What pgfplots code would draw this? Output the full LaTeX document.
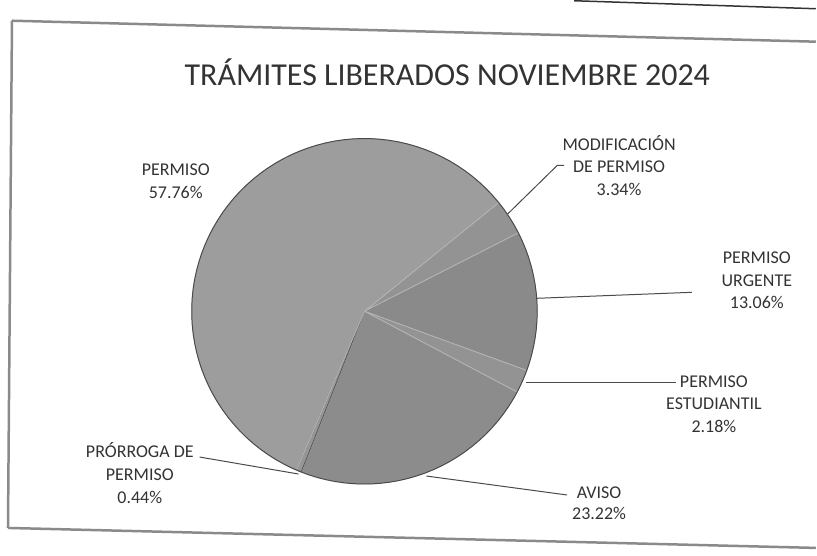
\documentclass[border=0pt]{standalone}
\usepackage{pgfplots}
\pgfplotsset{compat=1.18}
\usepackage{fontspec}
\setmainfont{Carlito}
\definecolor{txt}{HTML}{333333}
\definecolor{cPER}{HTML}{9D9D9D}
\definecolor{cMOD}{HTML}{939393}
\definecolor{cURG}{HTML}{8A8A8A}
\definecolor{cEST}{HTML}{939393}
\definecolor{cAVI}{HTML}{8C8C8C}
\definecolor{cPRO}{HTML}{969696}
\definecolor{sep}{HTML}{B4B4B4}
\definecolor{edge}{HTML}{4A4A4A}
\definecolor{frame}{HTML}{8A8A8A}
% slice values (percent)
\def\vMOD{3.34}
\def\vURG{13.06}
\def\vEST{2.18}
\def\vAVI{23.22}
\def\vPRO{0.44}
\def\vPER{57.76}
% pie geometry (start angle, clockwise)
\def\cx{365}\def\cy{245}\def\rr{173}
\pgfmathsetmacro\aA{39}
\pgfmathsetmacro\aB{\aA-3.6*\vMOD}
\pgfmathsetmacro\aC{\aB-3.6*\vURG}
\pgfmathsetmacro\aD{\aC-3.6*\vEST}
\pgfmathsetmacro\aE{\aD-3.6*\vAVI}
\pgfmathsetmacro\aF{\aE-3.6*\vPRO}
\pgfmathsetmacro\aG{\aF-3.6*\vPER}
\begin{document}
\begin{tikzpicture}
\begin{axis}[hide axis, scale only axis, width=817pt, height=556pt,
  xmin=0, xmax=817, ymin=0, ymax=556, clip=false,
  at={(0,0)}, anchor=south west]
\addplot[draw=none] coordinates {(0,0) (817,556)};
% frame
\addplot[frame, line width=2.5pt] coordinates {(12,536) (817,515)};
\addplot[frame, line width=2.5pt] coordinates {(12,536) (8,28)};
\addplot[frame, line width=2.5pt] coordinates {(8,28) (817,8)};
\addplot[black!80, line width=1.5pt] coordinates {(575,556) (817,548)};
% slices
\addplot[fill=cMOD, draw=sep, line width=0.8pt, domain=\aB:\aA, samples=20, variable=\t]
  ({\cx+\rr*cos(\t)},{\cy+\rr*sin(\t)}) -- (axis cs:\cx,\cy) -- cycle;
\addplot[fill=cURG, draw=sep, line width=0.8pt, domain=\aC:\aB, samples=30, variable=\t]
  ({\cx+\rr*cos(\t)},{\cy+\rr*sin(\t)}) -- (axis cs:\cx,\cy) -- cycle;
\addplot[fill=cEST, draw=sep, line width=0.8pt, domain=\aD:\aC, samples=10, variable=\t]
  ({\cx+\rr*cos(\t)},{\cy+\rr*sin(\t)}) -- (axis cs:\cx,\cy) -- cycle;
\addplot[fill=cAVI, draw=sep, line width=0.8pt, domain=\aE:\aD, samples=40, variable=\t]
  ({\cx+\rr*cos(\t)},{\cy+\rr*sin(\t)}) -- (axis cs:\cx,\cy) -- cycle;
\addplot[fill=cPRO, draw=edge, line width=0.6pt, domain=\aF:\aE, samples=5, variable=\t]
  ({\cx+\rr*cos(\t)},{\cy+\rr*sin(\t)}) -- (axis cs:\cx,\cy) -- cycle;
\addplot[fill=cPER, draw=sep, line width=0.8pt, domain=\aG:\aF, samples=80, variable=\t]
  ({\cx+\rr*cos(\t)},{\cy+\rr*sin(\t)}) -- (axis cs:\cx,\cy) -- cycle;
% outer edge
\addplot[edge, line width=1pt, domain=0:360, samples=120, variable=\t]
  ({\cx+\rr*cos(\t)},{\cy+\rr*sin(\t)});
% leader lines
\addplot[edge, line width=1pt] coordinates {(508,342) (558,391) (565,391)};
\addplot[edge, line width=1pt] coordinates {(538,258) (693,264)};
\addplot[edge, line width=1pt] coordinates {(527,174) (677,174)};
\addplot[edge, line width=1pt] coordinates {(427,80) (568,61)};
\addplot[edge, line width=1pt] coordinates {(200,99) (299,82)};
% labels
\node[txt, font=\fontsize{32}{38}\selectfont] at (axis cs:448,484) {TRÁMITES LIBERADOS NOVIEMBRE 2024};
\node[txt, align=center, font=\fontsize{18}{23}\selectfont] at (axis cs:176,375) {PERMISO\\57.76\%};
\node[txt, align=center, font=\fontsize{18}{22.5}\selectfont] at (axis cs:620,391) {MODIFICACIÓN\\DE PERMISO\\3.34\%};
\node[txt, align=center, font=\fontsize{18}{22.5}\selectfont] at (axis cs:758,276) {PERMISO\\URGENTE\\13.06\%};
\node[txt, align=center, font=\fontsize{18}{22.5}\selectfont] at (axis cs:715,152) {PERMISO\\ESTUDIANTIL\\2.18\%};
\node[txt, align=center, font=\fontsize{18}{21}\selectfont] at (axis cs:600,53) {AVISO\\23.22\%};
\node[txt, align=center, font=\fontsize{18}{23}\selectfont] at (axis cs:140,83) {PRÓRROGA DE\\PERMISO\\0.44\%};
\end{axis}
\end{tikzpicture}
\end{document}
